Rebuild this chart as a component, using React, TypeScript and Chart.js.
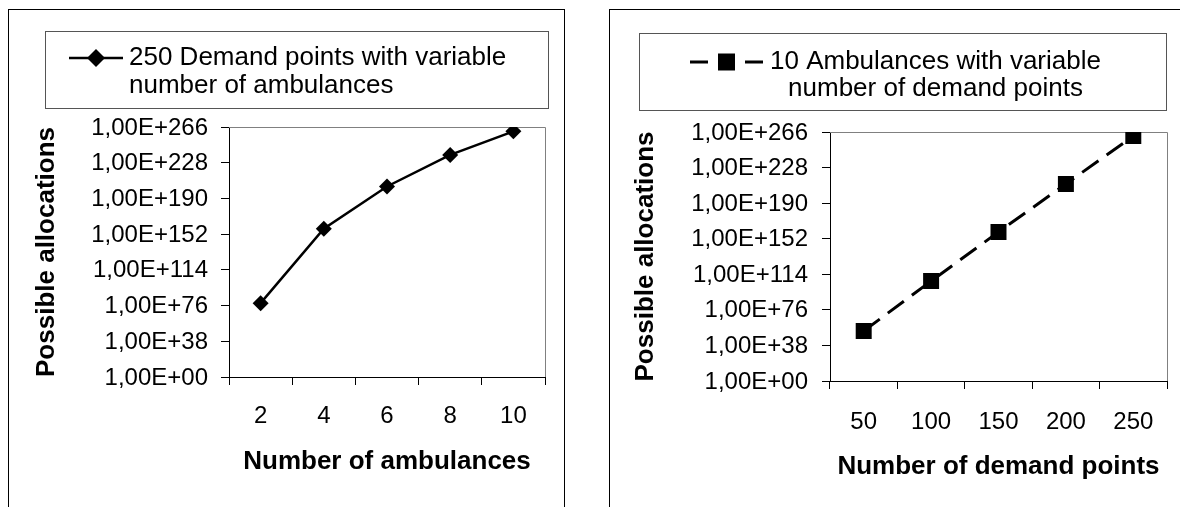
import React, { useEffect, useRef } from "react";
import { Chart, registerables } from "chart.js";

Chart.register(...registerables);

// ---- Data (values are log10 of possible allocations) ----
const ambulanceCategories = ["2", "4", "6", "8", "10"];
const ambulanceExponents = [78.6, 157.7, 202.7, 236.3, 261.4];
const demandCategories = ["50", "100", "150", "200", "250"];
const demandExponents = [53.4, 106.8, 159.2, 210.5, 261.7];
const yTickExponents = [0, 38, 76, 114, 152, 190, 228, 266];

const leftLegendLines = ["250 Demand points with variable", "number of ambulances"];
const rightLegendLines = ["10 Ambulances with variable", "number of demand points"];
const leftXTitle = "Number of ambulances";
const rightXTitle = "Number of demand points";
const yTitle = "Possible allocations";

const FONT = "'Liberation Sans', Arial, sans-serif";
const TICK_FONT = 24;
const LEGEND_FONT = 26;
const TITLE_FONT = 26;
const TICK_LEN = 8;

type Legend = {
  l: number; t: number; r: number; b: number;
  lines: string[];
  align: "left" | "center";
  dashed: boolean;
  style: string;
  sampleX: number; sampleW: number; textX: number; y1: number; y2: number;
};

type Cfg = {
  boxLeft: number; boxTop: number; boxW: number; boxH: number;
  plotL: number; plotT: number; plotR: number; plotB: number;
  legend: Legend;
  categories: string[];
  values: number[];
  xTitle: string; xTitleY: number; xLabelY: number;
  yTitleX: number; yLabelRight: number;
  dashed: boolean;
  pointStyle: string;
  pointRadius: number;
  lineWidth: number;
};

const DASH = [20, 10];

function ChartBox({ cfg }: { cfg: Cfg }) {
  const ref = useRef<HTMLCanvasElement | null>(null);
  useEffect(() => {
    const canvas = ref.current!;
    const ox = cfg.boxLeft + 1; // canvas origin (inside the 1px border)
    const oy = cfg.boxTop + 1;
    const W = cfg.boxW - 2;
    const H = cfg.boxH - 2;
    const pl = cfg.plotL - ox;
    const pt = cfg.plotT - oy;
    const pr = cfg.plotR - ox;
    const pb = cfg.plotB - oy;

    const decorPlugin = {
      id: "decor",
      afterDraw(chart: any) {
        const ctx = chart.ctx;
        const area = chart.chartArea;
        const sx = chart.scales.x;
        const sy = chart.scales.y;
        const lg = cfg.legend;
        const l = lg.l - ox, t = lg.t - oy, r = lg.r - ox, b = lg.b - oy;
        ctx.save();
        // legend box
        ctx.strokeStyle = "#555";
        ctx.lineWidth = 1;
        ctx.strokeRect(l + 0.5, t + 0.5, r - l, b - t);
        // legend sample
        const x0 = lg.sampleX - ox;
        const y1 = lg.y1 - oy;
        const y2 = lg.y2 - oy;
        const sw = lg.sampleW;
        ctx.strokeStyle = "#000";
        ctx.fillStyle = "#000";
        ctx.lineWidth = cfg.lineWidth;
        ctx.beginPath();
        if (lg.dashed) {
          ctx.moveTo(x0, y1); ctx.lineTo(x0 + 18, y1);
          ctx.moveTo(x0 + sw - 18, y1); ctx.lineTo(x0 + sw, y1);
        } else {
          ctx.moveTo(x0, y1); ctx.lineTo(x0 + sw, y1);
        }
        ctx.stroke();
        const mx = x0 + sw / 2;
        ctx.beginPath();
        if (lg.style === "rect") {
          ctx.rect(mx - 8.5, y1 - 8.5, 17, 17);
        } else {
          ctx.moveTo(mx, y1 - 9);
          ctx.lineTo(mx + 9, y1);
          ctx.lineTo(mx, y1 + 9);
          ctx.lineTo(mx - 9, y1);
          ctx.closePath();
        }
        ctx.fill();
        // legend text
        ctx.font = `${LEGEND_FONT}px ${FONT}`;
        ctx.textBaseline = "middle";
        ctx.textAlign = "left";
        const tx = lg.textX - ox;
        ctx.fillText(lg.lines[0], tx, y1);
        const w1 = ctx.measureText(lg.lines[0]).width;
        if (lg.align === "left") {
          ctx.fillText(lg.lines[1], tx, y2);
        } else {
          ctx.textAlign = "center";
          ctx.fillText(lg.lines[1], tx + w1 / 2, y2);
        }
        // tick labels (positions from the chart's own scales)
        ctx.font = `${TICK_FONT}px ${FONT}`;
        ctx.textAlign = "center";
        ctx.textBaseline = "middle";
        cfg.categories.forEach((c, i) => {
          ctx.fillText(c, sx.getPixelForValue(i), cfg.xLabelY - oy);
        });
        ctx.textAlign = "right";
        yTickExponents.forEach((v) => {
          ctx.fillText("1,00E+" + String(v).padStart(2, "0"), cfg.yLabelRight - ox, sy.getPixelForValue(v) + 1);
        });
        // axis titles
        ctx.font = `bold ${TITLE_FONT}px ${FONT}`;
        ctx.textAlign = "center";
        ctx.fillText(cfg.xTitle, (area.left + area.right) / 2, cfg.xTitleY - oy);
        ctx.save();
        ctx.translate(cfg.yTitleX - ox, (area.top + area.bottom) / 2);
        ctx.rotate(-Math.PI / 2);
        ctx.fillText(yTitle, 0, 0);
        ctx.restore();
        ctx.restore();
      },
    };

    const framePlugin = {
      id: "plotFrame",
      beforeDatasetsDraw(chart: any) {
        const { ctx, chartArea } = chart;
        ctx.save();
        ctx.strokeStyle = "#808080";
        ctx.lineWidth = 1;
        ctx.beginPath();
        ctx.moveTo(chartArea.left, chartArea.top + 0.5);
        ctx.lineTo(chartArea.right + 0.5, chartArea.top + 0.5);
        ctx.lineTo(chartArea.right + 0.5, chartArea.bottom);
        ctx.stroke();
        ctx.restore();
      },
    };

    const chart = new Chart(canvas, {
      type: "line",
      data: {
        labels: cfg.categories,
        datasets: [
          {
            data: cfg.values,
            borderColor: "#000",
            backgroundColor: "#000",
            borderWidth: cfg.lineWidth,
            borderDash: cfg.dashed ? DASH : [],
            pointStyle: cfg.pointStyle as any,
            pointRadius: cfg.pointRadius,
            pointBorderWidth: 0,
            pointBackgroundColor: "#000",
            tension: 0,
          },
        ],
      },
      options: {
        animation: false,
        responsive: false,
        maintainAspectRatio: false,
        layout: { padding: { left: 0, top: pt, right: W - pr, bottom: 0 } },
        plugins: { legend: { display: false }, tooltip: { enabled: false } },
        scales: {
          x: {
            type: "category",
            offset: true,
            grid: { offset: true, drawOnChartArea: false, drawTicks: true, tickLength: TICK_LEN, color: "#000" },
            border: { color: "#000", width: 1 },
            ticks: { display: false },
            afterFit: (s: any) => {
              s.height = H - pb;
            },
          },
          y: {
            type: "linear",
            min: 0,
            max: 266,
            afterBuildTicks: (s: any) => {
              s.ticks = yTickExponents.map((v) => ({ value: v }));
            },
            grid: { drawOnChartArea: false, drawTicks: true, tickLength: TICK_LEN, color: "#000" },
            border: { color: "#000", width: 1 },
            ticks: { display: false },
            afterFit: (s: any) => {
              s.width = pl;
            },
          },
        },
      },
      plugins: [framePlugin, decorPlugin],
    });
    return () => chart.destroy();
  }, [cfg]);

  return (
    <div
      style={{
        position: "absolute",
        left: cfg.boxLeft,
        top: cfg.boxTop,
        width: cfg.boxW,
        height: cfg.boxH,
        border: "1px solid #000",
        boxSizing: "border-box",
        background: "#fff",
      }}
    >
      <canvas ref={ref} width={cfg.boxW - 2} height={cfg.boxH - 2} style={{ display: "block", position: "absolute", left: 0, top: 0 }} />
    </div>
  );
}

const leftCfg: Cfg = {
  boxLeft: 8, boxTop: 9, boxW: 557, boxH: 520,
  plotL: 229, plotT: 127, plotR: 545, plotB: 377,
  legend: {
    l: 45, t: 31, r: 548, b: 108, lines: leftLegendLines, align: "left", dashed: false, style: "diamond",
    sampleX: 69, sampleW: 54, textX: 129, y1: 58, y2: 86,
  },
  categories: ambulanceCategories,
  values: ambulanceExponents,
  xTitle: leftXTitle, xTitleY: 462, xLabelY: 416,
  yTitleX: 47, yLabelRight: 208,
  dashed: false,
  pointStyle: "rectRot",
  pointRadius: 8,
  lineWidth: 2.5,
};

const rightCfg: Cfg = {
  boxLeft: 609, boxTop: 9, boxW: 600, boxH: 520,
  plotL: 830, plotT: 132, plotR: 1167, plotB: 381,
  legend: {
    l: 639, t: 33, r: 1166, b: 110, lines: rightLegendLines, align: "center", dashed: true, style: "rect",
    sampleX: 690, sampleW: 73, textX: 770, y1: 62, y2: 89,
  },
  categories: demandCategories,
  values: demandExponents,
  xTitle: rightXTitle, xTitleY: 467, xLabelY: 422,
  yTitleX: 646, yLabelRight: 808,
  dashed: true,
  pointStyle: "rect",
  pointRadius: 11.3,
  lineWidth: 3,
};

export default function App() {
  return (
    <div style={{ position: "fixed", left: 0, top: 0, width: 1180, height: 507, overflow: "hidden", background: "#fff" }}>
      <ChartBox cfg={leftCfg} />
      <ChartBox cfg={rightCfg} />
    </div>
  );
}
